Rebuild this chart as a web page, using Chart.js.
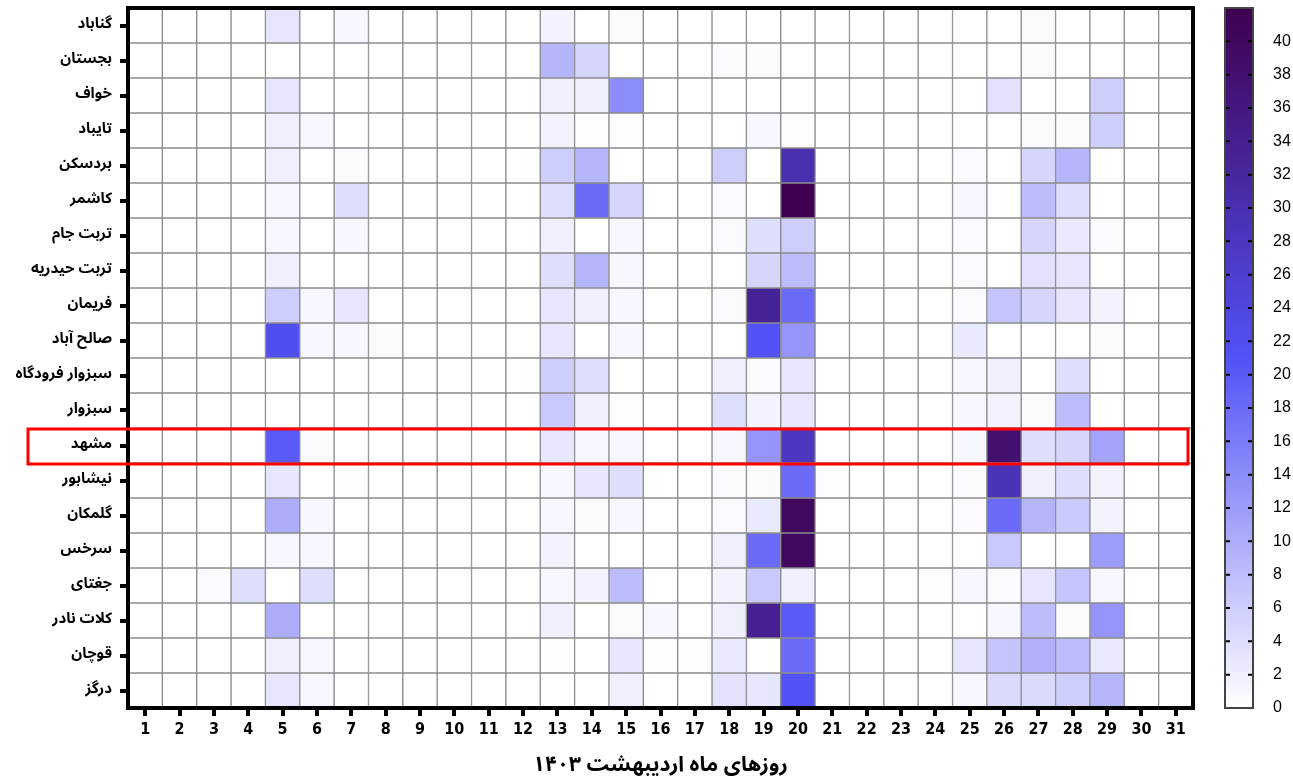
<!DOCTYPE html>
<html>
<head>
<meta charset="utf-8">
<script src="https://cdn.jsdelivr.net/npm/chart.js@4"></script>
<style>
  body { margin: 0; background: #fff; }
  #wrap { position: relative; width: 1293px; height: 782px; }
  #main-box { position: absolute; left: 0; top: 0; width: 1293px; height: 782px; }
  #bar-box { position: absolute; left: 1200px; top: 0; width: 93px; height: 782px; }
</style>
</head>
<body>
<div id="wrap">
  <div id="main-box"><canvas id="heat"></canvas></div>
  <div id="bar-box"><canvas id="scale"></canvas></div>
</div>
<script>
// ایستگاه‌ها از بالا به پایین
const stations = ['گناباد', 'بجستان', 'خواف', 'تایباد', 'بردسکن', 'کاشمر', 'تربت جام', 'تربت حیدریه', 'فریمان', 'صالح آباد',
  'سبزوار فرودگاه', 'سبزوار', 'مشهد', 'نیشابور', 'گلمکان', 'سرخس', 'جغتای', 'کلات نادر', 'قوچان', 'درگز'];
const days = ['1', '2', '3', '4', '5', '6', '7', '8', '9', '10', '11', '12', '13', '14', '15', '16',
  '17', '18', '19', '20', '21', '22', '23', '24', '25', '26', '27', '28', '29', '30', '31'];
const colorTicks = [0, 2, 4, 6, 8, 10, 12, 14, 16, 18, 20, 22, 24, 26, 28, 30, 32, 34, 36, 38, 40];
const colorMax = 42;

// one row per station, one value per day
const values = [
  [0,0,0,0,3,0,1,0,0,0,     0,0,1.5,0,0.5,0,0,0,0,0,     0,0,0,0,0,0,0.5,0,0,0,0],
  [0,0,0,0,0,0,0,0,0,0,     0,0,9,5,0,0,0,0.5,0.5,0,     0,0,0,0,0,0,0.5,0,0,0,0],
  [0,0,0,0,3,0,0,0,0,0,     0,0,2,2,14,0,0,0,0,0,        0,0,0,0,0,3.5,0,0,6,0,0],
  [0,0,0,0,2,1,0,0,0,0,     0,0,1.5,0.2,0.2,0,0,0,1,0.2, 0,0,0,0,0,0,0.5,0.5,6,0,0],
  [0,0,0,0,2,0,0.5,0,0,0,   0,0,6,9,0,0,0,6,0,30,        0,0,0,0,0.5,0,5,9,0,0,0],
  [0,0,0,0,1,0,4,0,0,0,     0,0,4,18,5,0,0,0.5,0,42,     0,0,0,0,1,0,8,4,0,0,0],
  [0,0,0,0,1,0,1,0,0,0,     0,0,2,0,1,0,0,0.5,4,6,       0,0,0,0,0.5,0,5,2.5,0.5,0,0],
  [0,0,0,0,2,0,0,0,0,0,     0,0,4,9,1,0,0,0,5,8,         0,0,0,0,0.5,0,3.5,3,0,0,0],
  [0,0,0,0,6,1,3,0,0,0,     0,0,3,2,1,0,0,0.5,33,18,     0,0,0,0,0.5,7,5,3,1.5,0,0],
  [0,0,0,0,22,1,1,0.5,0,0,  0,0,3,0,1,0,0,0,21,13,       0,0,0,0,2.5,0,0,0,0.5,0,0],
  [0,0,0,0,0,0,0,0,0,0,     0,0,6,4,0,0,0,2,0.5,3,       0,0,0,0,1,2,0,4,0,0,0],
  [0,0,0,0,0,0,0,0,0,0,     0,0,6.5,2,0.2,0,0,4,1.5,3,   0,0,0,0,1,1.5,0.5,8,0,0,0],
  [0,0,0,0,20,0.5,0,0,0,0,  0,0,3,1,1,0,0,1,13,28,       0,0,0,0,1,38,4,5,11,0,0],
  [0,0,0,0,3,0,0.3,0,0,0,   0,0,1,3,4,0,0,0.5,0.5,18,    0.2,0,0,0,0.5,29,2,4,1.5,0,0],
  [0,0,0,0,10,1,0,0,0,0,    0,0,1,0.5,1,0,0,0.5,2.5,40,  0,0,0,0,0.5,18,9,6.5,1.5,0,0],
  [0,0,0,0,1,1,0,0,0,0,     0,0,1.5,0,0,0,0,2,18,40,     0,0,0,0,0,6.5,0,0,12,0,0],
  [0,0,0.5,4,0,4,0,0,0,0,   0,0,1,1.5,8,0,0,1.5,6.5,2,   0,0,0,0.2,1,0.5,3,7,1,0,0],
  [0,0,0,0,10,0,0,0,0,0,    0,0,2,0,0.5,1,0,2,34,20,     0,0,0,0,0,1,8,0.5,13,0,0],
  [0,0,0,0,2,1,0,0,0,0,     0,0,0.2,0,3,0.2,0.2,2.5,0,18, 0,0,0,0,3,7,9.5,8,2.5,0,0],
  [0,0,0,0,3,1,0,0,0,0,     0,0,0,0,2,0,0,3.5,3,21,      0,0,0,0,1,4.5,4.5,6,9,0,0]
];
const highlight = 'مشهد';

// white -> blue -> dark purple
const stops = [[0, [255, 255, 255]], [21, [82, 82, 247]], [42, [63, 0, 80]]];
function colorFor(v) {
  for (let k = 1; k < stops.length; k++) {
    if (v <= stops[k][0]) {
      const [v0, c0] = stops[k - 1], [v1, c1] = stops[k];
      const t = (v - v0) / (v1 - v0);
      const c = c0.map((a, j) => Math.round(a + (c1[j] - a) * t));
      return 'rgb(' + c.join(',') + ')';
    }
  }
  return 'rgb(' + stops[stops.length - 1][1].join(',') + ')';
}

const arabicFont = "'Noto Sans Arabic', 'Noto Naskh Arabic', 'DejaVu Sans', sans-serif";

const frame = {
  id: 'frame',
  afterDatasetsDraw(chart) {
    const { ctx, chartArea: a, scales } = chart;
    ctx.save();
    ctx.lineWidth = 4;
    ctx.strokeStyle = '#000';
    ctx.strokeRect(a.left, a.top, a.right - a.left, a.bottom - a.top);
    // red box around Mashhad
    const r = stations.indexOf(highlight);
    const top = scales.y.getPixelForValue(r), bottom = scales.y.getPixelForValue(r + 1);
    ctx.lineWidth = 3;
    ctx.strokeStyle = '#ff0000';
    ctx.strokeRect(a.left - 100, top + 1, a.right - 5 - (a.left - 100), bottom - top);
    ctx.restore();
  }
};

new Chart(document.getElementById('heat'), {
  type: 'bar',
  data: {
    labels: days,
    datasets: stations.map((name, i) => ({
      label: name,
      data: days.map(() => [i, i + 1]),
      backgroundColor: values[i].map(colorFor),
      borderColor: '#8c8c8c',
      borderWidth: 1,
      borderSkipped: false,
      barPercentage: 1,
      categoryPercentage: 1,
      grouped: false
    }))
  },
  options: {
    responsive: true,
    maintainAspectRatio: false,
    animation: false,
    layout: { padding: { top: 8, right: 100, left: 0, bottom: 0 } },
    plugins: { legend: { display: false }, tooltip: { enabled: false } },
    scales: {
      x: {
        type: 'category',
        border: { display: false },
        grid: { drawOnChartArea: false, offset: false, tickLength: 8, lineWidth: 4, color: '#000' },
        ticks: {
          color: '#000', padding: 4, maxRotation: 0, autoSkip: false,
          font: { family: "'Liberation Sans Narrow', 'DejaVu Sans Condensed', sans-serif", weight: 'bold', size: 16 }
        },
        title: {
          display: true, text: 'روزهای ماه اردیبهشت ۱۴۰۳', color: '#000', padding: { top: 8, bottom: 2 },
          font: { family: arabicFont, weight: 'bold', size: 21 }
        },
        afterFit(s) { s.height = 74; }
      },
      y: {
        type: 'linear', min: 0, max: stations.length, reverse: true,
        border: { display: false },
        grid: { drawOnChartArea: false, tickLength: 8, lineWidth: 4, color: '#000' },
        afterBuildTicks(s) { s.ticks = stations.map((_, i) => ({ value: i + 0.5 })); },
        ticks: {
          color: '#000', padding: 8,
          font: { family: arabicFont, weight: 'bold', size: 15 },
          callback: (v, i) => stations[i]
        },
        afterFit(s) { s.width = 128; s.paddingTop = 0; s.paddingBottom = 0; }
      }
    }
  },
  plugins: [frame]
});

// colour bar
const barDecor = {
  id: 'barDecor',
  afterDatasetsDraw(chart) {
    const { ctx, chartArea: a, scales } = chart;
    ctx.save();
    ctx.strokeStyle = '#000';
    ctx.lineWidth = 2;
    colorTicks.forEach(t => {
      if (t <= 0) return;
      const y = scales.y.getPixelForValue(t);
      ctx.beginPath();
      ctx.moveTo(a.left, y); ctx.lineTo(a.left + 5, y);
      ctx.moveTo(a.right - 5, y); ctx.lineTo(a.right, y);
      ctx.stroke();
    });
    ctx.strokeStyle = '#444';
    ctx.strokeRect(a.left, a.top, a.right - a.left, a.bottom - a.top);
    ctx.restore();
  }
};

new Chart(document.getElementById('scale'), {
  type: 'bar',
  data: {
    labels: [''],
    datasets: [{
      data: [[0, colorMax]],
      barPercentage: 1,
      categoryPercentage: 1,
      backgroundColor(c) {
        const { chart } = c;
        if (!chart.chartArea) return '#fff';
        const y = chart.scales.y;
        const g = chart.ctx.createLinearGradient(0, y.getPixelForValue(0), 0, y.getPixelForValue(colorMax));
        stops.forEach(([v, col]) => g.addColorStop(v / colorMax, 'rgb(' + col.join(',') + ')'));
        return g;
      }
    }]
  },
  options: {
    responsive: true,
    maintainAspectRatio: false,
    animation: false,
    layout: { padding: { left: 25, top: 8, bottom: 74, right: 0 } },
    plugins: { legend: { display: false }, tooltip: { enabled: false } },
    scales: {
      x: { display: false },
      y: {
        position: 'right', min: 0, max: colorMax,
        border: { display: false },
        grid: { display: false },
        afterBuildTicks(s) { s.ticks = colorTicks.map(v => ({ value: v })); },
        ticks: { color: '#000', padding: 12, font: { family: "'Liberation Sans', Arial, sans-serif", size: 16 } },
        afterFit(s) { s.width = 40; s.paddingTop = 0; s.paddingBottom = 0; }
      }
    }
  },
  plugins: [barDecor]
});
</script>
</body>
</html>
